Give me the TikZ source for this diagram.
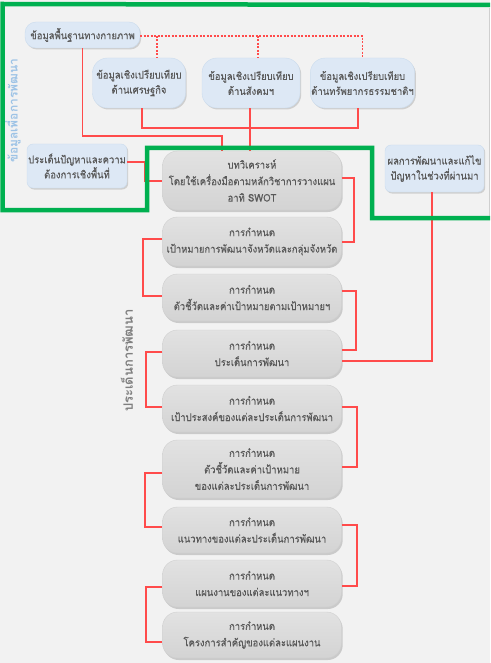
\documentclass[tikz,border=0pt]{standalone}
\usepackage{fontspec}
\newfontfamily\thai[Script=Thai,FakeStretch=0.9,FakeBold=0.4]{Loma}
\newfontfamily\thaib[Script=Thai]{Loma Bold}
\usetikzlibrary{shadows}
\definecolor{bg}{HTML}{F2F2F2}
\definecolor{bluefill}{HTML}{DDE8F5}
\definecolor{bluedraw}{HTML}{CBDCEE}
\definecolor{graytop}{HTML}{E2E2E2}
\definecolor{graybot}{HTML}{D3D3D3}
\definecolor{graydraw}{HTML}{CFCFCF}
\definecolor{txt}{HTML}{595959}
\definecolor{redl}{HTML}{FF4B4B}
\definecolor{greenl}{HTML}{00B050}
\definecolor{lblue}{HTML}{9DC3E6}
\definecolor{vgray}{HTML}{7F7F7F}
\begin{document}
\begin{tikzpicture}[x=1pt,y=-1pt,
  bluebox/.style={draw=bluedraw, line width=0.4pt, fill=bluefill, rounded corners=#1,
    align=center, text=txt, font=\thai\fontsize{10.5}{15}\selectfont, inner sep=1pt,
    drop shadow={shadow xshift=1.2pt, shadow yshift=-1.5pt, opacity=0.3}},
  bluebox/.default=12pt,
  graybox/.style={draw=graydraw, line width=0.4pt, top color=graytop, bottom color=graybot, rounded corners=15pt,
    align=center, text=txt, font=\thai\fontsize{10.5}{16.5}\selectfont, inner sep=1pt,
    minimum width=179pt, drop shadow={shadow xshift=1.2pt, shadow yshift=-2pt, opacity=0.35}},
  redline/.style={draw=redl, line width=1.1pt},
  reddash/.style={draw=redl, line width=1.1pt, dash pattern=on 2pt off 1.5pt},
  greenline/.style={draw=greenl, line width=4.5pt, line join=miter},
  vlabel/.style={rotate=90, anchor=west, inner sep=0pt}
]
\path[use as bounding box, fill=bg] (0,0) rectangle (490,663);
\draw[graydraw, line width=0.6pt] (489,8) -- (489,216);

% top blue boxes
\node[bluebox=11pt, minimum width=115pt, minimum height=26pt] (n1) at (82.5,35) {ข้อมูลพื้นฐานทางกายภาพ};
\node[bluebox=15pt, minimum width=93pt, minimum height=50pt] (n2) at (139,83) {ข้อมูลเชิงเปรียบเทียบ\\ด้านเศรษฐกิจ};
\node[bluebox=15pt, minimum width=98pt, minimum height=50pt] (n3) at (251,83) {ข้อมูลเชิงเปรียบเทียบ\\ด้านสังคมฯ};
\node[bluebox=15pt, minimum width=99pt, minimum height=50pt] (n4) at (362.5,83) {ข้อมูลเชิงเปรียบเทียบ\\ด้านทรัพยากรธรรมชาติฯ};
\node[bluebox=6pt, minimum width=100pt, minimum height=44pt] (n5) at (77,166) {ประเด็นปัญหาและความ\\ต้องการเชิงพื้นที่};
\node[bluebox=6pt, minimum width=99pt, minimum height=47pt] (n6) at (434.5,168.5) {ผลการพัฒนาและแก้ไข\\ปัญหาในช่วงที่ผ่านมา};

% gray boxes
\node[graybox, minimum height=59pt] (g1) at (252,180.5) {บทวิเคราะห์\\โดยใช้เครื่องมือตามหลักวิชาการวางแผน\\อาทิ SWOT};
\node[graybox, minimum height=49pt] (g2) at (252,241.5) {การกำหนด\\เป้าหมายการพัฒนาจังหวัดและกลุ่มจังหวัด};
\node[graybox, minimum height=47pt] (g3) at (252,297.5) {การกำหนด\\ตัวชี้วัดและค่าเป้าหมายตามเป้าหมายฯ};
\node[graybox, minimum height=47pt] (g4) at (252,353.5) {การกำหนด\\ประเด็นการพัฒนา};
\node[graybox, minimum height=47pt] (g5) at (252,408.5) {การกำหนด\\เป้าประสงค์ของแต่ละประเด็นการพัฒนา};
\node[graybox, minimum height=58pt] (g6) at (252,469) {การกำหนด\\ตัวชี้วัดและค่าเป้าหมาย\\ของแต่ละประเด็นการพัฒนา};
\node[graybox, minimum height=46pt] (g7) at (252,530) {การกำหนด\\แนวทางของแต่ละประเด็นการพัฒนา};
\node[graybox, minimum height=47pt] (g8) at (252,583.5) {การกำหนด\\แผนงานของแต่ละแนวทางฯ};
\node[graybox, minimum height=46pt] (g9) at (252,635) {การกำหนด\\โครงการสำคัญของแต่ละแผนงาน};

% vertical labels
\node[vlabel, text=lblue, font=\thaib\fontsize{12}{12}\selectfont] (v1) at (13,163) {ข้อมูลเพื่อการพัฒนา};
\node[vlabel, text=vgray, font=\thaib\fontsize{13}{13}\selectfont] (v2) at (127,412) {ประเด็นการพัฒนา};

% dashed connectors
\draw[reddash] (n1.east |- 0,36) -| (n4.north);
\coordinate (d2) at (157,36);
\coordinate (d3) at (258,36);
\draw[reddash] (d2) -- (d2 |- n2.north);
\draw[reddash] (d3) -- (d3 |- n3.north);

% solid connectors top
\coordinate (k1) at (222,136);
\draw[redline] (n1.south) |- (k1) -- (k1 |- g1.north);
\coordinate (e2) at (142,0);
\coordinate (e4) at (358,0);
\draw[redline] (e2 |- n2.south) |- (0,128 -| e4) -- (e4 |- n4.south);
\coordinate (e3) at (250,0);
\draw[redline] (e3 |- n3.south) -- (e3 |- g1.north);
\draw[redline] (n5.east |- 0,162) -- (145,162) |- (g1.west |- 0,181);
\coordinate (e6) at (432,0);
\draw[redline] (e6 |- n6.south) |- (g4.east |- 0,361);

% chain connectors
\draw[redline] (g1.east |- 0,178) -| (354,210) |- (g2.east |- 0,242);
\draw[redline] (g2.west |- 0,239) -| (143,270) |- (g3.west |- 0,296);
\draw[redline] (g3.east |- 0,291) -| (356,320) |- (g4.east |- 0,350);
\draw[redline] (g4.west |- 0,352) -| (146,380) |- (g5.west |- 0,407);
\draw[redline] (g5.east |- 0,407) -| (357,440) |- (g6.east |- 0,467);
\draw[redline] (g6.west |- 0,473) -| (145,500) |- (g7.west |- 0,527);
\draw[redline] (g7.east |- 0,525) -| (357,560) |- (g8.east |- 0,586);
\draw[redline] (g8.west |- 0,587) -| (146,610) |- (g9.west |- 0,642);

% green frame
\draw[greenline] (490,5) -- (2.5,4) -- (2.5,210) -- (147,210) -- (147,148) -- (372,148) -- (372,218) -- (490,218);
\end{tikzpicture}
\end{document}
